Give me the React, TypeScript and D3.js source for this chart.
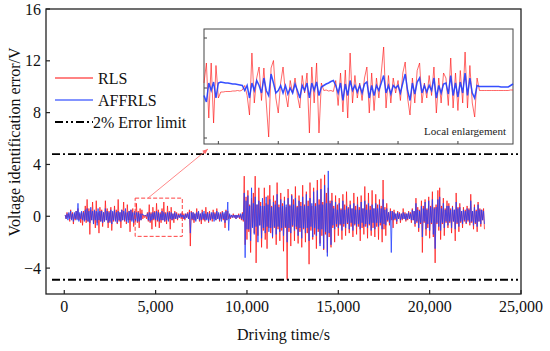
import React from 'react';
import * as d3 from 'd3';

// ---- data ----
const xTicks = [0, 5000, 10000, 15000, 20000, 25000];
const yTicks = [-4, 0, 4, 8, 12, 16];
const errorLimits = [4.8, -4.9]; // 2% error limit lines

// main traces, one sample every 50 s starting at 50 s (one row = 1000 s)
const mainStart = 50;
const mainStep = 50;
const rlsMain = [
  0.1, -0.2, 0.3, -0.1, 0.2, -0.4, 0.5, -0.2, 0.3, -0.6, 0.2, -0.3, 0.4, -0.2, 0.6, -0.3, 0.2, -0.5, 0.3, -0.7,
  0.4, -0.3, 0.8, -0.5, 1.3, -0.4, 0.6, -1.4, 0.5, -0.3, 1.1, -0.6, 0.4, -0.9, 1.2, -0.5, 0.3, -1.3, 0.7, -0.4,
  0.5, -0.8, 0.3, -0.4, 1.2, -0.3, 0.6, -0.9, 0.4, -0.5, 0.7, -1.1, 0.3, -0.4, 0.8, -0.3, 0.5, -0.6, 1.3, -0.4,
  0.3, -0.9, 0.5, -0.3, 1.1, -0.4, 0.3, -0.6, 0.9, -0.3, 0.4, -1.2, 0.5, -0.3, 0.6, -0.8, 0.3, -0.4, 1.0, -0.5,
  0.4, -0.9, 0.6, -0.3, 0.5, -0.2, 0.1, -0.1, 0.1, -0.2, 0.3, -0.4, 0.9, -0.5, 0.3, -1.0, 0.7, -0.3, 0.4, -0.8,
  1.0, -0.4, 0.5, -0.9, 0.3, -0.5, 0.6, -0.3, 1.1, -0.4, 0.3, -0.6, 0.8, -0.3, 0.4, -1.0, 0.7, -0.3, 0.2, -0.5,
  0.4, -0.2, 0.3, -0.3, 0.2, -0.1, 0.2, -0.2, 0.3, -0.2, 0.2, -0.3, 0.2, -0.1, 0.3, -0.2, 0.5, -2.3, 0.4, -0.3,
  0.3, -0.5, 0.2, -0.3, 0.6, -0.2, 0.3, -0.4, 0.2, -0.6, 0.5, -0.3, 0.2, -0.4, 0.7, -0.2, 0.3, -0.5, 0.4, -0.3,
  0.2, -0.4, 0.5, -0.2, 0.3, -0.3, 0.6, -0.2, 0.2, -0.4, 0.3, -0.2, 0.4, -0.3, 0.2, -0.9, 0.5, -0.3, 0.4, -0.2,
  0.1, -0.2, 0.1, -0.1, 0.2, -0.1, 0.1, -0.2, 0.1, -0.1, 0.2, -0.2, 0.1, -0.3, 0.3, -0.4, 3.1, -2.2, 1.5, -1.8,
  2.0, -1.2, 0.9, -2.8, 1.4, -0.8, 1.8, -1.3, 3.1, -3.6, 0.9, -1.5, 2.2, -0.7, 1.1, -2.4, 0.8, -1.1, 2.2, -1.8,
  1.0, -2.5, 1.6, -0.9, 2.4, -1.3, 0.8, -1.7, 1.6, -0.9, 1.2, -2.2, 2.6, -1.0, 0.9, -1.9, 1.8, -1.1, 1.0, -2.7,
  1.5, -0.9, 0.7, -4.9, 2.1, -1.2, 0.9, -2.3, 1.7, -0.8, 1.3, -1.9, 2.3, -1.0, 0.8, -2.1, 1.6, -1.2, 1.1, -2.4,
  2.4, -1.0, 0.9, -2.0, 1.9, -1.3, 1.2, -3.7, 2.6, -1.1, 0.8, -1.8, 2.2, -1.4, 1.0, -2.5, 2.8, -1.2, 1.3, -2.1,
  2.9, -1.5, 1.1, -2.6, 3.2, -1.4, 1.8, -2.8, 2.2, -1.6, 1.2, -2.4, 1.8, -0.9, 0.8, -2.0, 1.6, -0.8, 0.9, -1.5,
  1.4, -0.7, 0.6, -1.8, 1.7, -0.8, 0.9, -1.5, 1.9, -0.6, 0.7, -1.3, 1.2, -0.8, 0.6, -1.6, 1.8, -0.7, 0.8, -1.4,
  1.5, -0.8, 0.7, -1.9, 1.6, -0.9, 0.6, -1.4, 2.3, -0.8, 0.9, -1.7, 1.8, -0.7, 0.8, -1.5, 2.0, -0.9, 0.6, -1.6,
  1.7, -0.8, 0.9, -1.8, 1.3, -0.7, 0.8, -2.0, 2.8, -1.0, 0.7, -1.5, 1.0, -0.4, 0.3, -0.7, 0.6, -0.3, 0.4, -0.9,
  0.5, -0.3, 0.2, -0.6, 0.4, -0.2, 0.3, -0.5, 0.2, -0.3, 0.6, -0.2, 0.3, -0.4, 0.2, -0.3, 0.4, -0.2, 0.3, -0.5,
  0.6, -0.3, 0.4, -0.8, 1.4, -0.5, 0.7, -1.2, 0.5, -0.6, 1.2, -2.8, 0.8, -0.5, 1.3, -1.5, 0.6, -0.9, 1.5, -1.7,
  0.8, -0.6, 1.9, -1.6, 0.7, -3.6, 0.9, -0.6, 2.0, -1.1, 2.2, -1.8, 0.8, -0.6, 1.4, -1.5, 0.6, -0.5, 1.2, -0.9,
  1.0, -0.5, 0.6, -1.3, 0.8, -0.4, 0.5, -1.9, 1.8, -0.6, 0.7, -1.2, 1.0, -0.5, 0.4, -0.9, 0.7, -0.4, 0.5, -0.6,
  0.8, -0.4, 0.6, -0.7, 1.7, -0.5, 0.4, -1.0, 0.9, -0.6, 0.5, -1.2, 1.1, -0.4, 0.6, -0.8, 0.5, -0.3, 0.6, -1.0,
];
const affMain = [
  0.1, -0.2, 0.2, -0.3, 0.3, -0.2, 0.4, -0.3, 0.2, -0.4, 0.3, -0.2, 0.4, -0.3, 1.0, -0.4, 0.3, -0.2, 0.4, -0.3,
  0.3, -0.4, 0.5, -0.3, 0.6, -0.4, 0.4, -0.5, 0.7, -0.3, 0.4, -0.6, 0.5, -0.3, 0.4, -0.7, 0.6, -0.3, 0.4, -0.4,
  0.4, -0.5, 0.3, -0.4, 0.6, -0.3, 0.4, -0.5, 0.3, -0.4, 0.5, -0.6, 0.4, -0.3, 0.5, -0.4, 0.3, -0.5, 0.4, -0.3,
  0.3, -0.4, 0.5, -0.3, 0.4, -0.3, 0.6, -0.4, 0.3, -0.5, 0.4, -0.3, 0.5, -0.4, 0.3, -0.5, 0.4, -0.3, 0.3, -0.4,
  0.3, -0.4, 0.2, -0.3, 0.2, 0.1, 0.1, 0.05, 0.05, 0.0, 0.2, -0.3, 0.3, -0.4, 0.2, -0.3, 0.3, -0.2, 0.3, -0.3,
  0.4, -0.3, 0.3, -0.4, 0.2, -0.3, 0.4, -0.3, 0.3, -0.4, 0.2, -0.3, 0.3, -0.4, 0.3, -0.2, 0.3, -0.3, 0.2, -0.2,
  0.3, -0.2, 0.2, -0.2, 0.1, -0.1, 0.2, -0.1, 0.2, -0.2, 0.1, -0.2, 0.2, -0.1, 0.2, -0.2, 0.3, -1.3, 0.3, -0.2,
  0.3, -0.3, 0.2, -0.4, 0.3, -0.2, 0.4, -0.3, 0.2, -0.3, 0.3, -0.2, 0.4, -0.3, 0.2, -0.3, 0.3, -0.4, 0.2, -0.3,
  0.3, -0.2, 0.3, -0.4, 0.2, -0.3, 0.4, -0.2, 0.3, -0.3, 0.2, -0.4, 0.3, -0.2, 0.3, -0.5, 0.4, -0.3, 1.1, -1.1,
  0.2, -0.1, 0.1, -0.1, 0.1, -0.1, 0.1, -0.2, 0.1, -0.1, 0.1, -0.1, 0.2, -0.2, 0.2, -0.3, 1.8, -3.2, 1.2, -1.0,
  1.6, -1.0, 0.8, -1.9, 2.2, -0.9, 1.0, -1.4, 1.5, -0.8, 0.9, -2.0, 1.2, -0.7, 0.8, -1.7, 1.4, -0.9, 0.8, -1.3,
  1.5, -0.8, 0.9, -1.2, 1.3, -0.9, 0.7, -1.6, 1.1, -0.8, 0.9, -1.4, 1.7, -0.8, 0.7, -1.2, 1.3, -0.9, 0.8, -1.5,
  1.2, -0.8, 0.9, -2.0, 1.4, -0.9, 0.8, -1.3, 1.6, -0.7, 0.9, -1.1, 1.4, -0.8, 0.7, -1.5, 1.2, -0.9, 0.8, -1.7,
  1.5, -0.9, 0.8, -1.3, 1.7, -0.9, 0.8, -1.9, 1.4, -0.8, 1.0, -1.6, 1.9, -0.9, 0.8, -1.5, 2.0, -1.0, 0.9, -2.3,
  2.1, -1.0, 0.9, -2.5, 2.4, -1.2, 1.0, -3.1, 3.5, -1.3, 1.0, -2.2, 1.2, -0.7, 0.6, -1.0, 1.1, -0.6, 0.5, -0.9,
  1.0, -0.6, 0.5, -1.1, 1.2, -0.6, 0.5, -0.9, 0.8, -0.5, 0.6, -1.0, 0.9, -0.5, 0.6, -1.1, 1.0, -0.6, 0.5, -0.8,
  0.9, -0.6, 0.5, -1.0, 1.1, -0.5, 0.6, -0.8, 1.2, -0.6, 0.5, -0.9, 1.0, -0.6, 0.5, -1.1, 0.9, -0.5, 0.6, -1.0,
  1.0, -0.5, 0.6, -0.8, 0.9, -0.5, 0.6, -1.0, 1.3, -0.6, 0.5, -0.7, 0.6, -0.3, 0.3, -0.5, 0.4, -2.8, 0.4, -0.3,
  0.3, -0.2, 0.2, -0.4, 0.3, -0.2, 0.2, -0.3, 0.2, -0.2, 0.3, -0.2, 0.2, -0.3, 0.2, -0.2, 0.3, -0.2, 0.2, -0.3,
  0.5, -0.3, 0.4, -0.6, 1.0, -0.4, 0.5, -0.9, 0.4, -0.5, 0.8, -1.6, 0.6, -0.4, 1.1, -1.0, 0.5, -0.6, 1.2, -1.1,
  0.7, -0.5, 1.3, -1.4, 0.6, -2.5, 0.7, -0.5, 1.3, -0.8, 1.5, -1.1, 0.6, -0.5, 1.0, -0.9, 0.5, -0.4, 0.8, -0.7,
  0.8, -0.4, 0.5, -0.9, 0.7, -0.4, 0.5, -1.0, 1.1, -0.5, 0.6, -0.8, 0.7, -0.4, 0.4, -0.6, 0.5, -0.3, 0.4, -0.5,
  0.6, -0.3, 0.5, -0.5, 1.2, -0.4, 0.4, -0.7, 0.7, -0.5, 0.4, -0.8, 0.9, -0.4, 0.5, -0.6, 0.5, -0.3, 0.4, -0.6,
];

// local enlargement, one sample every 20 s from 3880 s
const localStart = 3880;
const localStep = 20;
const localXTicks = [4000, 4500, 5000, 5500, 6000];
const localYTicks = [-1, 0, 1];
const zoomRange = [-1.55, 1.4]; // value range of the dashed box
const rlsLocal = [
  0.1, 0.5, -0.6, 0.5, -0.7, 0.45, -0.2,
  -0.08, -0.08, -0.07, -0.07, -0.07, -0.06, -0.06, -0.05, -0.06, -0.04,
  0.05, -0.15, -0.54, 0.7, -0.3, 0.2, 0.42, -0.25, 0.4, -0.3,
  -0.98, 0.4, 0.55, -0.2, -0.5, 0.1, 0.42, -0.1, -0.38, 0.15,
  -0.1, 0.2, -0.15, -0.4, 0.25, -0.1, 0.3, -0.9, 0.42, -0.3,
  0.5, -0.9, 0.1, -0.05, -0.04, -0.06, -0.05, -0.07, 0.15, -0.35,
  0.3, -0.48, 0.36, -0.6, 0.7, -0.3, 0.25, -0.2, 0.1, -0.25,
  0.2, 0.42, -0.5, 0.3, -0.45, 0.2, -0.2, 0.3, 0.82, -0.4,
  0.25, -0.3, 0.2, -0.1, 0.15, -0.25, 0.3, 0.52, -0.2, -0.54,
  0.2, -0.3, 0.35, 0.5, -0.3, 0.1, -0.2, 0.25, -0.15, 0.42,
  -0.5, 0.2, -0.3, 0.3, 0.2, -0.35, 0.6, -0.4, 0.3, -0.45,
  0.35, -0.3, 0.72, -0.4, 0.45, -0.3, -0.58, 0.2,
  -0.05, -0.05, -0.05, -0.05, -0.05, -0.05, -0.05, -0.05, -0.05, -0.05,
  -0.05, -0.05, -0.05, -0.04, -0.04,
];
const affLocal = [
  -0.15, -0.28, 0.1, -0.05, 0.12, -0.2, 0.1,
  0.12, 0.11, 0.1, 0.1, 0.09, 0.08, 0.08, 0.07, 0.06, 0.05,
  -0.05, 0.05, -0.2, 0.1, -0.05, 0.15, 0.05, -0.1, 0.2, -0.05,
  -0.15, 0.28, 0.1, -0.1, -0.05, 0.05, -0.1, 0.05, -0.12, 0.0,
  -0.1, 0.08, -0.05, -0.2, 0.05, -0.05, 0.1, -0.2, 0.1, -0.05,
  0.12, -0.15, 0.02, 0.05, 0.08, 0.1, 0.13, 0.15, 0.05, -0.1,
  0.1, -0.25, 0.08, -0.15, 0.15, -0.05, 0.05, -0.08, 0.05, -0.1,
  0.08, 0.12, -0.2, 0.05, -0.15, 0.05, -0.05, 0.1, 0.25, -0.1,
  0.05, -0.12, 0.05, 0.0, 0.05, -0.1, 0.1, 0.28, -0.05, -0.25,
  0.1, -0.12, 0.12, 0.2, -0.1, 0.05, -0.08, 0.05, -0.05, 0.2,
  -0.2, 0.05, -0.1, 0.08, 0.1, -0.12, 0.25, -0.15, 0.1, -0.18,
  0.12, -0.1, 0.3, -0.15, 0.2, -0.1, -0.2, 0.05,
  0.03, 0.03, 0.03, 0.03, 0.03, 0.03, 0.03, 0.03, 0.03, 0.02,
  0.02, 0.02, 0.02, 0.05, 0.08,
];

const RED = '#ff1010';
const BLUE = '#1f3cff';
const FONT = '"Liberation Serif", "Times New Roman", serif';

export default function App() {
  const W = 550;
  const H = 351;
  const frame = { left: 46, right: 521, top: 9, bottom: 294 };
  const inset = { left: 204, right: 513, top: 29, bottom: 144 };

  const x = d3.scaleLinear().domain([-1000, 25000]).range([frame.left, frame.right]);
  const y = d3.scaleLinear().domain([-6, 16]).range([frame.bottom, frame.top]);

  const localEnd = localStart + localStep * (rlsLocal.length - 1);
  const lx = d3.scaleLinear().domain([localStart, localEnd]).range([inset.left, inset.right]);
  const ly = d3.scaleLinear().domain([-1.12, 1.18]).range([inset.bottom, inset.top]);

  const mainLine = d3.line<number>()
    .x((d, i) => x(mainStart + i * mainStep))
    .y(d => y(d));
  const localLine = d3.line<number>()
    .x((d, i) => lx(localStart + i * localStep))
    .y(d => ly(d));

  const fmtX = d3.format(',');
  const fmtY = d3.format('d');

  // arrow from dashed box to the enlargement
  const ax0 = x(4580);
  const ay0 = y(zoomRange[1]);
  const ax1 = inset.left + 4;
  const ay1 = inset.bottom + 5;
  const ang = Math.atan2(ay1 - ay0, ax1 - ax0);
  const hl = 6;
  const head = [
    [ax1, ay1],
    [ax1 - hl * Math.cos(ang - 0.4), ay1 - hl * Math.sin(ang - 0.4)],
    [ax1 - hl * Math.cos(ang + 0.4), ay1 - hl * Math.sin(ang + 0.4)],
  ].map(p => p.join(',')).join(' ');

  const legendX = 55;
  const legend = [
    { label: 'RLS', y: 78, color: '#ff5a5a', dash: undefined as string | undefined, w: 1.6 },
    { label: 'AFFRLS', y: 100, color: '#5a70ff', dash: undefined, w: 1.6 },
    { label: '2% Error limit', y: 122, color: '#000', dash: '8,3,2,3,2,3', w: 1.8 },
  ];

  return (
    <svg width={W} height={H} style={{ position: 'absolute', left: 0, top: 0, background: '#fff' }}
      fontFamily={FONT}>
      <rect x={0} y={0} width={W} height={H} fill="#fff" />

      {/* main traces */}
      <path d={mainLine(rlsMain) || ''} fill="none" stroke={RED} strokeWidth={0.9} strokeOpacity={0.8} />
      <path d={mainLine(affMain) || ''} fill="none" stroke={BLUE} strokeWidth={0.9} strokeOpacity={0.85} />

      {/* error limits */}
      {errorLimits.map(v => (
        <line key={v} x1={frame.left + 6} x2={frame.right - 3} y1={y(v)} y2={y(v)}
          stroke="#000" strokeWidth={1.8} strokeDasharray="8,3,2,3" />
      ))}

      {/* dashed selection box */}
      <rect x={x(localStart)} y={y(zoomRange[1])} width={x(localEnd) - x(localStart)}
        height={y(zoomRange[0]) - y(zoomRange[1])} fill="none" stroke="#ff4040"
        strokeWidth={1} strokeDasharray="4,2" />
      <line x1={ax0} y1={ay0} x2={ax1} y2={ay1} stroke="#ff6a6a" strokeWidth={0.8} />
      <polygon points={head} fill="#ff6a6a" />

      {/* inset */}
      <rect x={inset.left} y={inset.top} width={inset.right - inset.left}
        height={inset.bottom - inset.top} fill="#fff" stroke="#444" strokeWidth={1} />
      <path d={localLine(rlsLocal) || ''} fill="none" stroke={RED} strokeWidth={0.9} strokeOpacity={0.7} />
      <path d={localLine(affLocal) || ''} fill="none" stroke={BLUE} strokeWidth={1.5} strokeOpacity={0.9} />
      {localXTicks.map(t => (
        <line key={t} x1={lx(t)} x2={lx(t)} y1={inset.bottom} y2={inset.bottom - 3} stroke="#444" />
      ))}
      {localYTicks.map(t => (
        <line key={t} x1={inset.left} x2={inset.left + 3} y1={ly(t)} y2={ly(t)} stroke="#444" />
      ))}
      <text x={inset.right - 7} y={inset.bottom - 9} fontSize={11} textAnchor="end" fill="#222">
        Local enlargement
      </text>

      {/* frame and axes */}
      <rect x={frame.left} y={frame.top} width={frame.right - frame.left}
        height={frame.bottom - frame.top} fill="none" stroke="#222" strokeWidth={1.3} />
      {xTicks.map(t => (
        <g key={t}>
          <line x1={x(t)} x2={x(t)} y1={frame.bottom} y2={frame.bottom - 4} stroke="#222" strokeWidth={1.2} />
          <text x={x(t)} y={frame.bottom + 18} fontSize={16} textAnchor="middle" fill="#111">{fmtX(t)}</text>
        </g>
      ))}
      {yTicks.map(t => (
        <g key={t}>
          <line x1={frame.left} x2={frame.left + 4} y1={y(t)} y2={y(t)} stroke="#222" strokeWidth={1.2} />
          <text x={frame.left - 5} y={y(t)} dy="0.35em" fontSize={16} textAnchor="end" fill="#111">{fmtY(t)}</text>
        </g>
      ))}
      <text x={(frame.left + frame.right) / 2} y={340} fontSize={16} textAnchor="middle" fill="#111">
        Driving time/s
      </text>
      <text transform={`translate(20,142) rotate(-90)`} fontSize={16} textAnchor="middle" fill="#111">
        Voltage identification error/V
      </text>

      {/* legend */}
      {legend.map(l => (
        <g key={l.label}>
          <line x1={legendX} x2={legendX + 38} y1={l.y} y2={l.y} stroke={l.color}
            strokeWidth={l.w} strokeDasharray={l.dash} />
          <text x={l.label.startsWith('2%') ? legendX + 38 : legendX + 43} y={l.y} dy="0.35em"
            fontSize={16} fill="#111">{l.label}</text>
        </g>
      ))}
    </svg>
  );
}
